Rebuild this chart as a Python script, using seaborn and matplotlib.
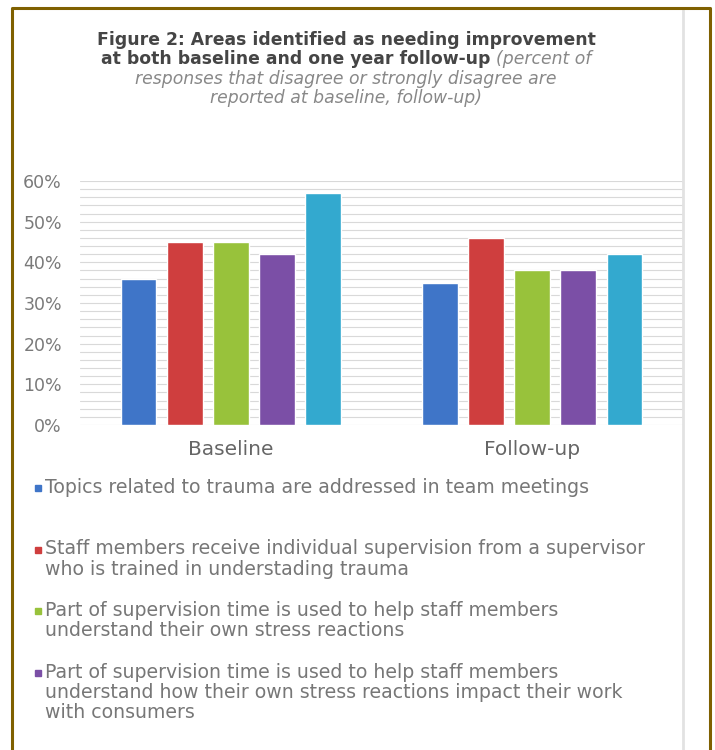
import pandas as pd
import numpy as np
import matplotlib
matplotlib.use('Agg')
import matplotlib.pyplot as plt
import seaborn as sns
from matplotlib.patches import Rectangle
from matplotlib.lines import Line2D

# values (percent disagree / strongly disagree)
periods = ['Baseline', 'Follow-up']
items = [
    'Topics related to trauma are addressed in team meetings',
    'Staff members receive individual supervision from a supervisor\nwho is trained in understading trauma',
    'Part of supervision time is used to help staff members\nunderstand their own stress reactions',
    'Part of supervision time is used to help staff members\nunderstand how their own stress reactions impact their work\nwith consumers',
    'Item 5',
]
baseline = [0.36, 0.45, 0.45, 0.42, 0.57]
follow_up = [0.35, 0.46, 0.38, 0.38, 0.42]
colors = ['#3f75c8', '#cf3e3e', '#98c23b', '#7b4fa6', '#33a9cf']
ytick_labels = ['0%', '10%', '20%', '30%', '40%', '50%', '60%']

data = pd.DataFrame({
    'period': ['Baseline'] * 5 + ['Follow-up'] * 5,
    'item': items + items,
    'value': baseline + follow_up,
})

sns.set_style('white')
plt.rcParams['font.family'] = ['DejaVu Sans']

W, H = 715, 750
fig = plt.figure(figsize=(W / 100, H / 100), dpi=100)


def fx(x):
    return x / W


def fy(y):
    return 1 - y / H


ax = fig.add_axes([fx(80), fy(425), fx(683) - fx(80), fy(181) - fy(425)])
sns.barplot(data=data, x='period', y='value', hue='item', palette=colors,
            width=0.765, gap=0.22, saturation=1, legend=False, ax=ax)

ax.set_ylim(0, 0.6)
ax.set_xlim(-0.5, 1.5)
ax.set_yticks(np.arange(0, 0.61, 0.1))
ax.set_yticklabels(ytick_labels)
ax.set_yticks(np.arange(0, 0.61, 0.02), minor=True)
ax.grid(axis='y', which='both', color='#d9d9d9', lw=0.8)
ax.set_axisbelow(True)
ax.tick_params(axis='y', which='both', length=0, pad=13, labelsize=12.5, labelcolor='#7a7a7a')
ax.tick_params(axis='x', length=0, pad=11, labelsize=14.5, labelcolor='#666666')
ax.set_xlabel('')
ax.set_ylabel('')
sns.despine(ax=ax, left=True, bottom=True)

# title, bold lines then italic note
renderer = fig.canvas.get_renderer()
cx = 346
tsize = 12.4
fig.text(fx(cx), fy(40), 'Figure 2: Areas identified as needing improvement',
         ha='center', va='center', fontsize=tsize, fontweight='bold', color='#454545')
t_bold = fig.text(0, fy(59), 'at both baseline and one year follow-up ',
                  ha='left', va='center', fontsize=tsize, fontweight='bold', color='#454545')
t_ital = fig.text(0, fy(59), '(percent of', ha='left', va='center',
                  fontsize=tsize, style='italic', color='#888888')
wb = t_bold.get_window_extent(renderer).width
wi = t_ital.get_window_extent(renderer).width
x0 = cx - (wb + wi) / 2
t_bold.set_x(fx(x0))
t_ital.set_x(fx(x0 + wb))
fig.text(fx(cx), fy(79), 'responses that disagree or strongly disagree are',
         ha='center', va='center', fontsize=tsize, style='italic', color='#888888')
fig.text(fx(cx), fy(98), 'reported at baseline, follow-up)',
         ha='center', va='center', fontsize=tsize, style='italic', color='#888888')

# legend (only the first four entries are visible in the reference)
for i in range(4):
    y = 488 + i * 61.5
    fig.add_artist(Rectangle((fx(35), fy(y + 3)), 6 / W, 6 / H,
                             transform=fig.transFigure, color=colors[i]))
    fig.text(fx(45), fy(y - 10), items[i], ha='left', va='top', fontsize=13.6,
             color='#777777', linespacing=1.1)

# panel frame
fig.add_artist(Line2D([fx(683), fx(683)], [0, fy(10)], transform=fig.transFigure,
                      color='#e2e2e2', lw=2))
gold = '#7f6000'
fig.add_artist(Line2D([fx(12), fx(12), fx(710), fx(710)], [0, fy(8), fy(8), 0],
                      transform=fig.transFigure, color=gold, lw=2.2))

fig.savefig('out.png', dpi=100, facecolor='white')
